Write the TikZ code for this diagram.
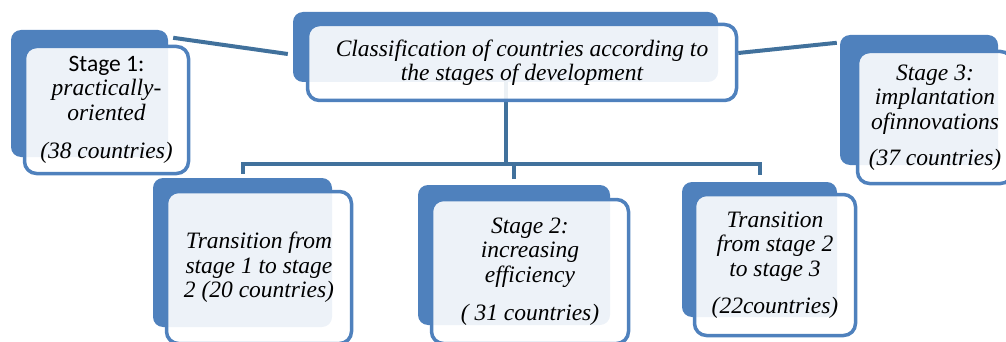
\documentclass[tikz,border=0pt]{standalone}
\usepackage{fontspec}
\setmainfont{Liberation Serif}
\newfontfamily\headfont{Carlito}
\usetikzlibrary{positioning,backgrounds}
\definecolor{boxblue}{HTML}{4F81BD}
\definecolor{linkblue}{HTML}{41719C}
\tikzset{
    back/.style={
           rectangle,
           rounded corners=10pt,
           fill=boxblue,
           inner sep=0,
           },
    front/.style={
           rectangle,
           rounded corners=12pt,
           draw=boxblue, line width=3.5pt,
           fill=white, fill opacity=0.9, text opacity=1,
           inner sep=0,
           align=center,
           font=\fontsize{23.5}{24.5}\selectfont\itshape,
           },
    link/.style={
           draw=linkblue,
           line width=4pt,
           },
}
\begin{document}
\begin{tikzpicture}[x=1pt,y=-1pt]
\useasboundingbox (0,0) rectangle (1006,342);
\clip (0,0) rectangle (1006,342);
% back boxes
\node[back, minimum width=157pt, minimum height=127pt] (s1b) at (89.5,93.5) {};
\node[back, minimum width=425pt, minimum height=70pt] (clsb) at (505.5,47) {};
\node[back, minimum width=158pt, minimum height=130pt] (s3b) at (919,100) {};
\node[back, minimum width=179pt, minimum height=149pt] (t1b) at (242.5,252.5) {};
\node[back, minimum width=192pt, minimum height=140pt] (s2b) at (514,255) {};
\node[back, minimum width=155pt, minimum height=135pt] (t2b) at (759.5,249.5) {};
% front boxes
\node[front, minimum width=164pt, minimum height=127pt] (s1f) at (106.5,110)
    {{\headfont\upshape Stage 1:}\\ practically-\\ oriented\\[14pt] (38 countries)};
\node[front, minimum width=429pt, minimum height=76pt] (clsf) at (522,62.5)
    {Classification of countries according to\\ the stages of development};
\node[front, minimum width=155pt, minimum height=132pt] (s3f) at (935,117.5)
    {Stage 3:\\ implantation\\ ofinnovations\\[12pt] (37 countries)};
\node[front, minimum width=185pt, minimum height=152pt] (t1f) at (259,267.5)
    {Transition from\\ stage 1 to stage\\ 2 (20 countries)};
\node[front, minimum width=197pt, minimum height=144pt] (s2f) at (530,271.5)
    {Stage 2:\\ increasing\\ efficiency\\[14pt] ( 31 countries)};
\node[front, minimum width=161pt, minimum height=141pt] (t2f) at (775,265)
    {Transition\\ from stage 2\\ to stage 3\\[13pt] (22countries)};
% connectors
\coordinate (bar) at (0,164);
\begin{scope}[on background layer]
\draw[link] ([xshift=5pt,yshift=-8pt]s1b.north east) -- ([xshift=-5pt,yshift=-7pt]clsb.west);
\draw[link] ([yshift=9.5pt]clsf.east) -- ([xshift=-3pt,yshift=-8pt]s3b.north west);
\draw[link] (clsb.south) -- (clsb.south |- bar);
\draw[link] ([yshift=4pt]t1b.north) -- (t1b.north |- bar) -- (t2b.north |- bar) -- ([yshift=7pt]t2b.north);
\draw[link] (s2b.north |- bar) -- ([yshift=6pt]s2b.north);
\end{scope}
\end{tikzpicture}
\end{document}
